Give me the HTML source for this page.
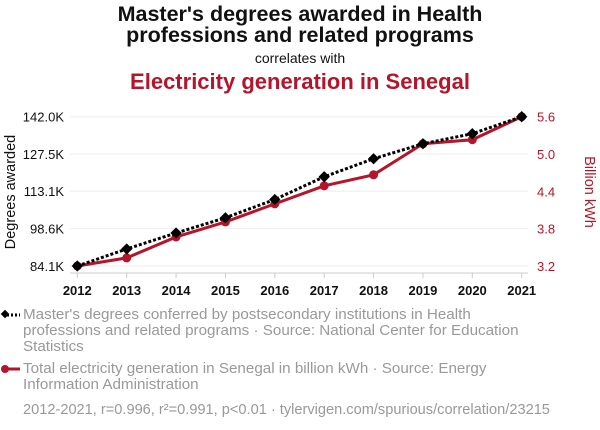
<!DOCTYPE html>
<html><head><meta charset="utf-8"><style>
body{margin:0;background:#fff;font-family:"Liberation Sans",sans-serif;}
svg{display:block}
</style></head><body>
<svg width="600" height="430" xmlns="http://www.w3.org/2000/svg">
<text x="300" y="21" text-anchor="middle" font-size="21.5" font-weight="bold" fill="#111">Master's degrees awarded in Health</text>
<text x="300" y="42" text-anchor="middle" font-size="21.5" font-weight="bold" fill="#111">professions and related programs</text>
<text x="300" y="63" text-anchor="middle" font-size="14" fill="#111">correlates with</text>
<text x="300" y="89" text-anchor="middle" font-size="22" font-weight="bold" fill="#b5152b">Electricity generation in Senegal</text>
<g id="grid"></g><g id="axes"></g><g id="series"></g>
<text transform="translate(15,192) rotate(-90)" text-anchor="middle" font-size="14.5" fill="#111">Degrees awarded</text>
<text transform="translate(585,192) rotate(90)" text-anchor="middle" font-size="14.5" fill="#b5152b">Billion kWh</text>
<g>
<line x1="3" y1="315" x2="20" y2="315" stroke="#000" stroke-width="3" stroke-dasharray="2,2"/>
<rect x="2" y="311" width="6" height="6" fill="#000" transform="rotate(45 5 314)"/>
<text font-size="15.2" fill="#999"><tspan x="23" y="319">Master's degrees conferred by postsecondary institutions in Health</tspan><tspan x="23" y="335">professions and related programs · Source: National Center for Education</tspan><tspan x="23" y="351">Statistics</tspan></text>
</g>
<g>
<line x1="3" y1="369" x2="20" y2="369" stroke="#b5152b" stroke-width="3"/>
<circle cx="5" cy="369" r="4" fill="#b5152b"/>
<text font-size="15.2" fill="#999"><tspan x="23" y="373">Total electricity generation in Senegal in billion kWh · Source: Energy</tspan><tspan x="23" y="389">Information Administration</tspan></text>
</g>
<text x="23" y="414" font-size="14.6" fill="#999">2012-2021, r=0.996, r²=0.991, p&lt;0.01 · tylervigen.com/spurious/correlation/23215</text>
</svg>
<script>
const years=[2012,2013,2014,2015,2016,2017,2018,2019,2020,2021];
const degrees=[84.1,90.7,96.9,102.8,109.9,118.7,125.7,131.5,135.4,142.0];
const electricity=[3.2,3.33,3.667,3.909,4.199,4.489,4.666,5.165,5.23,5.6];
const leftTicks=[84.1,98.6,113.1,127.5,142.0];
const leftTickLabels=["84.1K","98.6K","113.1K","127.5K","142.0K"];
const rightTicks=[3.2,3.8,4.4,5.0,5.6];
const rightTickLabels=["3.2","3.8","4.4","5.0","5.6"];
const NS="http://www.w3.org/2000/svg";
const x=y=>77.3+(y-2012)*(521.7-77.3)/9;
const yL=v=>266-(v-84.1)*(266-116.7)/(142.0-84.1);
const yR=v=>266-(v-3.2)*(266-116.7)/(5.6-3.2);
function mk(tag,attrs,parent,text){const e=document.createElementNS(NS,tag);for(const k in attrs)e.setAttribute(k,attrs[k]);if(text!=null)e.textContent=text;parent.appendChild(e);return e;}
const grid=document.getElementById('grid'),axes=document.getElementById('axes'),ser=document.getElementById('series');
leftTicks.forEach((t,i)=>{
 const g=mk('line',{x1:70,x2:528,y1:yL(t),y2:yL(t),stroke:'#eee','stroke-width':1},grid);
 
 
 const l=mk('text',{x:64,y:yL(t)+5,'text-anchor':'end','font-size':13,fill:'#111'},axes,leftTickLabels[i]);
 
 
});
rightTicks.forEach((t,i)=>{
 const l=mk('text',{x:537,y:yR(t)+5,'font-size':13,fill:'#b5152b'},axes,rightTickLabels[i]);
 
 
});
const ax=mk('line',{x1:70,x2:528,y1:273,y2:273,stroke:'#ccc','stroke-width':1},axes);


years.forEach(yr=>{
 mk('line',{x1:x(yr),x2:x(yr),y1:273,y2:278,stroke:'#ccc'},axes);
 const l=mk('text',{x:x(yr),y:295,'text-anchor':'middle','font-size':13,'font-weight':'bold',fill:'#111'},axes,String(yr));
 
 
});
const rp=mk('polyline',{points:years.map((yr,i)=>x(yr)+','+yR(electricity[i])).join(' '),fill:'none',stroke:'#b5152b','stroke-width':3},ser);


years.forEach((yr,i)=>{const c=mk('circle',{cx:x(yr),cy:yR(electricity[i]),r:4.5,fill:'#b5152b'},ser);
 
 });
const bp=mk('polyline',{points:years.map((yr,i)=>x(yr)+','+yL(degrees[i])).join(' '),fill:'none',stroke:'#000','stroke-width':3,'stroke-dasharray':'3,2'},ser);


years.forEach((yr,i)=>{const cx=x(yr),cy=yL(degrees[i]);
 const d=mk('rect',{x:cx-4,y:cy-4,width:8,height:8,fill:'#000',transform:`rotate(45 ${cx} ${cy})`},ser);
 
 });
</script>
</body></html>
